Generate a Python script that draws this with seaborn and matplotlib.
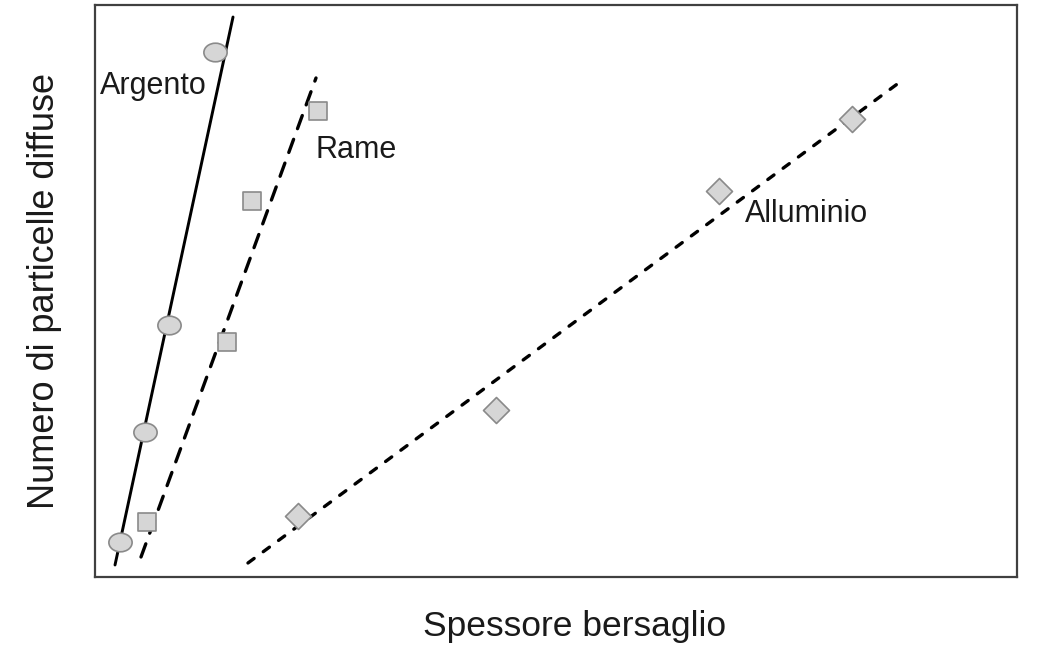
import numpy as np
import pandas as pd
import matplotlib
matplotlib.use("Agg")
import matplotlib.pyplot as plt
from matplotlib.path import Path
from matplotlib.transforms import Affine2D
import seaborn as sns

# Measured points (arbitrary units: thickness vs. scattered particle count)
argento_x = [2.71, 5.42, 8.03, 13.02]
argento_y = [6.12, 25.35, 44.06, 91.78]
rame_x = [5.64, 14.32, 17.03, 24.19]
rame_y = [9.62, 41.08, 65.73, 81.47]
alluminio_x = [22.02, 43.49, 67.68, 82.10]
alluminio_y = [10.66, 29.20, 67.48, 80.07]

# Fitted straight lines (end points)
argento_fit_x = [2.17, 14.97]
argento_fit_y = [2.10, 97.90]
rame_fit_x = [4.99, 23.97]
rame_fit_y = [3.50, 87.24]
alluminio_fit_x = [16.59, 87.31]
alluminio_fit_y = [2.45, 86.54]

sns.set_theme(style="white")
plt.rcParams["font.family"] = ["Liberation Sans", "DejaVu Sans"]

fig = plt.figure(figsize=(10.51, 6.48), dpi=100)
ax = fig.add_axes([95 / 1051, 71 / 648, 922 / 1051, 572 / 648])

fill = "#d6d6d6"
edge = "#8a8a8a"

# Slightly flattened circle marker
ellipse = Path.unit_circle().transformed(Affine2D().scale(1.0, 0.8))

# Fit lines
sns.lineplot(x=argento_fit_x, y=argento_fit_y, ax=ax, color="black",
             linewidth=2.1, zorder=2)
sns.lineplot(x=rame_fit_x, y=rame_fit_y, ax=ax, color="black",
             linewidth=2.4, linestyle=(0, (4.2, 3.4)), zorder=2,
             dash_capstyle="round")
sns.lineplot(x=alluminio_fit_x, y=alluminio_fit_y, ax=ax, color="black",
             linewidth=2.4, linestyle=(0, (2.3, 3.4)), zorder=2,
             dash_capstyle="round")

# Data points
sns.scatterplot(x=argento_x, y=argento_y, ax=ax, marker=ellipse, s=280,
                color=fill, edgecolor=edge, linewidth=1.2, zorder=3)
sns.scatterplot(x=rame_x, y=rame_y, ax=ax, marker="s", s=165,
                color=fill, edgecolor=edge, linewidth=1.2, zorder=3)
sns.scatterplot(x=alluminio_x, y=alluminio_y, ax=ax, marker="D", s=175,
                color=fill, edgecolor=edge, linewidth=1.2, zorder=3)

# Series labels
ax.text(6.3, 85.8, "Argento", fontsize=22, ha="center", va="center", color="#1a1a1a")
ax.text(28.3, 74.6, "Rame", fontsize=22, ha="center", va="center", color="#1a1a1a")
ax.text(70.5, 63.4, "Alluminio", fontsize=22, ha="left", va="center", color="#1a1a1a")

ax.set_xlim(0, 100)
ax.set_ylim(0, 100)
ax.set_xticks([])
ax.set_yticks([])
ax.set_xlabel("Spessore bersaglio", fontsize=25.5, color="#1a1a1a")
ax.set_ylabel("Numero di particelle diffuse", fontsize=26, labelpad=24, color="#1a1a1a")
ax.xaxis.set_label_coords(0.5206, -0.058)

for sp in ax.spines.values():
    sp.set_visible(True)
    sp.set_color("#404040")
    sp.set_linewidth(1.6)

fig.savefig("out.png", dpi=100, facecolor="white")
